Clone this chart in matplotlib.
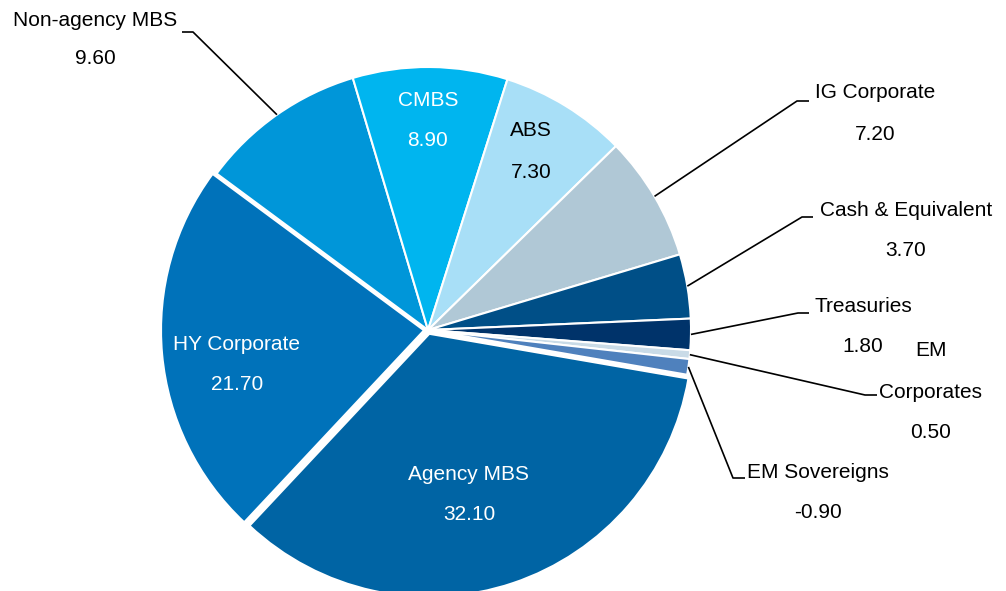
import numpy as np
import matplotlib
matplotlib.use("Agg")
import matplotlib.pyplot as plt

plt.rcParams['font.family'] = ['Liberation Sans', 'DejaVu Sans']

# data, clockwise from the Agency MBS slice
labels = ['Agency MBS', 'HY Corporate', 'Non-agency MBS', 'CMBS', 'ABS',
          'IG Corporate', 'Cash & Equivalent', 'Treasuries', 'EM Corporates',
          'EM Sovereigns']
values = [32.10, 21.70, 9.60, 8.90, 7.30, 7.20, 3.70, 1.80, 0.50, -0.90]

colors = ['#0064a4', '#0072ba', '#0096d9', '#00b5ef', '#a8dff7',
          '#b0c8d6', '#004f87', '#00336a', '#c9dbe7', '#4f81bd']

W, H = 1006, 591
cx, cy, R = 428, H - 330, 263
# pie() offsets exploded wedges in data units (pixels here)
explode = [4, 4, 0, 0, 0, 0, 0, 0, 0, 0]

fig = plt.figure(figsize=(W / 100, H / 100), dpi=100)
ax = fig.add_axes([0, 0, 1, 1])

sizes = np.abs(values)
wedges, _ = ax.pie(sizes, colors=colors, explode=explode, startangle=-9.8,
                   counterclock=False, center=(cx, cy), radius=R,
                   wedgeprops=dict(edgecolor='white', linewidth=1.5))
ax.set_xlim(0, W)
ax.set_ylim(0, H)
ax.set_aspect('equal')
ax.axis('off')

fs = 15

# labels inside the slices: (index, x, y name, y value, colour) in pixels from top
inside = [(0, 469, 475, 515, 'white'),
          (1, 237, 345, 385, 'white'),
          (3, 428, 100, 140, 'white'),
          (4, 531, 130, 172, 'black')]
for i, x, y1, y2, c in inside:
    ax.text(x, H - y1, labels[i], ha='center', va='center', fontsize=fs, color=c)
    ax.text(x, H - y2, '%.2f' % values[i], ha='center', va='center',
            fontsize=fs, color=c)

# labels outside with leader lines: (index, text x, name lines y, value y, elbow, end)
outside = [(2, 95, [20], 58, (193, 32), (182, 32)),
           (5, 875, [93], 134, (797, 101), (809, 101)),
           (6, 906, [210], 251, (802, 217), (813, 217)),
           (7, 863, [307], 347, (798, 313), (809, 313)),
           (8, 931, [350, 392], 432, (865, 395), (877, 395)),
           (9, 818, [473], 513, (733, 478), (745, 478))]
names = {8: ['EM', 'Corporates']}
for i, x, ys, yv, elbow, end in outside:
    w = wedges[i]
    mid = np.deg2rad((w.theta1 + w.theta2) / 2)
    sx = w.center[0] + w.r * np.cos(mid)
    sy = w.center[1] + w.r * np.sin(mid)
    ax.plot([sx, elbow[0], end[0]], [sy, H - elbow[1], H - end[1]],
            color='black', lw=1.2, solid_capstyle='butt')
    parts = names.get(i, [labels[i]])
    for p, y in zip(parts, ys):
        ax.text(x, H - y, p, ha='center', va='center', fontsize=fs, color='black')
    ax.text(x, H - yv, '%.2f' % values[i], ha='center', va='center',
            fontsize=fs, color='black')

fig.savefig('out.png', dpi=100)
